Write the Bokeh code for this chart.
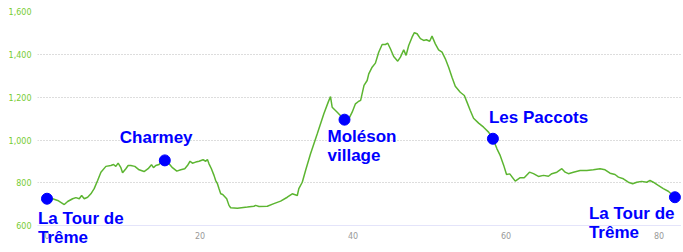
from bokeh.plotting import figure
from bokeh.models import Range1d, FixedTicker, NumeralTickFormatter, Label
from bokeh.embed import file_html
from bokeh.resources import INLINE

# elevation profile (distance km, elevation m)
km = [0, 0.74, 1.40, 2.26, 2.70, 3.35, 3.78, 4.22, 4.53, 4.87,
      5.31, 5.74, 6.17, 6.62, 7.05, 7.70, 8.35, 8.70, 9.00, 9.30,
      9.66, 9.88, 10.31, 10.61, 10.96, 11.48, 12.04, 12.69, 13.22, 13.66,
      13.92, 14.22, 14.65, 14.88, 15.40, 15.96, 16.40, 16.97, 17.49, 18.01,
      18.36, 18.70, 19.01, 19.44, 19.88, 20.40, 20.75, 20.97, 21.18, 21.49,
      21.83, 22.05, 22.28, 22.49, 22.71, 22.97, 23.49, 23.79, 24.01, 24.89,
      26.19, 27.05, 27.27, 27.71, 28.80, 29.66, 30.54, 31.41, 32.06, 32.72,
      32.92, 33.37, 33.80, 34.45, 35.33, 36.19, 36.76, 37.06, 37.28, 37.94,
      38.89, 39.45, 39.89, 40.32, 40.75, 41.00, 41.44, 41.85, 42.06, 42.50,
      42.93, 43.36, 43.81, 44.24, 44.54, 44.89, 45.32, 45.85, 46.20, 46.63,
      46.94, 47.28, 47.72, 48.02, 48.38, 48.81, 49.24, 49.59, 50.02, 50.33,
      50.76, 51.19, 51.64, 52.07, 52.50, 52.94, 53.37, 54.02, 54.55, 54.90,
      55.33, 55.76, 56.42, 57.07, 57.72, 58.29, 58.82, 59.25, 59.68, 60.07,
      60.49, 61.21, 61.86, 62.38, 63.07, 63.59, 64.24, 64.90, 65.55, 65.99,
      66.65, 67.30, 67.73, 68.16, 68.81, 69.69, 70.56, 71.42, 72.29, 72.95,
      73.60, 74.25, 74.69, 75.34, 75.99, 76.56, 77.09, 77.74, 78.39, 78.82,
      79.25, 79.90, 80.56, 81.21, 82.08]
elev = [726, 726, 718, 699, 713, 726, 731, 726, 741, 726,
        733, 749, 773, 811, 850, 877, 881, 886, 877, 892,
        871, 847, 866, 881, 881, 877, 861, 853, 866, 885,
        871, 881, 886, 897, 905, 889, 871, 855, 861, 866,
        881, 901, 892, 897, 901, 908, 901, 909, 889, 866,
        835, 811, 796, 773, 749, 746, 726, 695, 684, 682,
        687, 691, 695, 690, 691, 703, 715, 733, 749, 741,
        773, 803, 858, 936, 1029, 1123, 1177, 1203, 1153, 1130,
        1095, 1099, 1130, 1169, 1181, 1185, 1255, 1278, 1309, 1340,
        1359, 1410, 1446, 1446, 1452, 1426, 1390, 1368, 1387, 1421,
        1395, 1441, 1480, 1501, 1496, 1473, 1465, 1468, 1461, 1485,
        1449, 1421, 1410, 1379, 1340, 1293, 1251, 1223, 1208, 1177,
        1138, 1102, 1079, 1060, 1037, 1006, 959, 927, 884, 839,
        842, 808, 824, 824, 850, 843, 830, 835, 831, 843,
        850, 866, 850, 843, 850, 858, 858, 861, 866, 861,
        845, 839, 827, 819, 803, 796, 803, 807, 803, 811,
        803, 788, 773, 761, 733]

# waypoints
place_names = ["La Tour de\nTrême", "Charmey", "Moléson\nvillage", "Les Paccots", "La Tour de\nTrême"]
place_km = [0, 15.40, 38.89, 58.29, 82.08]
place_elev = [726, 905, 1095, 1006, 733]

x_ticks = [0, 20, 40, 60, 80]
y_ticks = [600, 800, 1000, 1200, 1400, 1600]

# label placement (styling only): x offset px, y offset px (up positive)
label_style = [(-9, -10), (-45, 32), (-17, -7), (-4, 31), (-86, -7)]

p = figure(width=683, height=252, output_backend="svg", toolbar_location=None,
           x_range=Range1d(-1.24, 82.94), y_range=Range1d(475, 1600),
           min_border_left=37, min_border_right=2, min_border_top=11, min_border_bottom=0)
p.outline_line_color = None
p.background_fill_color = "white"
p.border_fill_color = "white"

p.xgrid.grid_line_color = None
p.ygrid.ticker = FixedTicker(ticks=[800, 1000, 1200, 1400, 1600])
p.ygrid.grid_line_color = "#bbbbbb"
p.ygrid.grid_line_dash = "1 2"
p.ygrid.grid_line_width = 1

p.xaxis.fixed_location = 600
p.xaxis.ticker = FixedTicker(ticks=x_ticks)
p.xaxis.axis_line_color = "#c8c8f4"
p.xaxis.axis_line_dash = "1 1"
p.xaxis.major_tick_line_color = None
p.xaxis.minor_tick_line_color = None
p.xaxis.major_tick_out = 0
p.xaxis.major_tick_in = 0
p.xaxis.major_label_standoff = 6
p.xaxis.major_label_text_color = "#999999"
p.xaxis.major_label_text_font = "DejaVu Sans"
p.xaxis.major_label_text_font_size = "8px"

p.yaxis.ticker = FixedTicker(ticks=y_ticks)
p.yaxis.formatter = NumeralTickFormatter(format="0,0")
p.yaxis.axis_line_color = None
p.yaxis.major_tick_line_color = None
p.yaxis.minor_tick_line_color = None
p.yaxis.major_tick_out = 0
p.yaxis.major_tick_in = 0
p.yaxis.major_label_standoff = 6
p.yaxis.major_label_text_color = "#77cc33"
p.yaxis.major_label_text_font = "DejaVu Sans"
p.yaxis.major_label_text_font_size = "8px"

p.line(km, elev, line_color="#5cb531", line_width=1.5)
p.scatter(place_km, place_elev, size=11, fill_color="#0000ff", line_color="#0000ff")

for name, xk, ye, (dx, dy) in zip(place_names, place_km, place_elev, label_style):
    p.add_layout(Label(x=xk, y=ye, text=name, x_offset=dx, y_offset=dy,
                       text_align="left", text_baseline="top",
                       text_font="Liberation Sans", text_font_style="bold",
                       text_font_size="17px", text_color="#0000ff",
                       text_line_height=1.0))

open("out.html", "w").write(file_html(p, INLINE))
